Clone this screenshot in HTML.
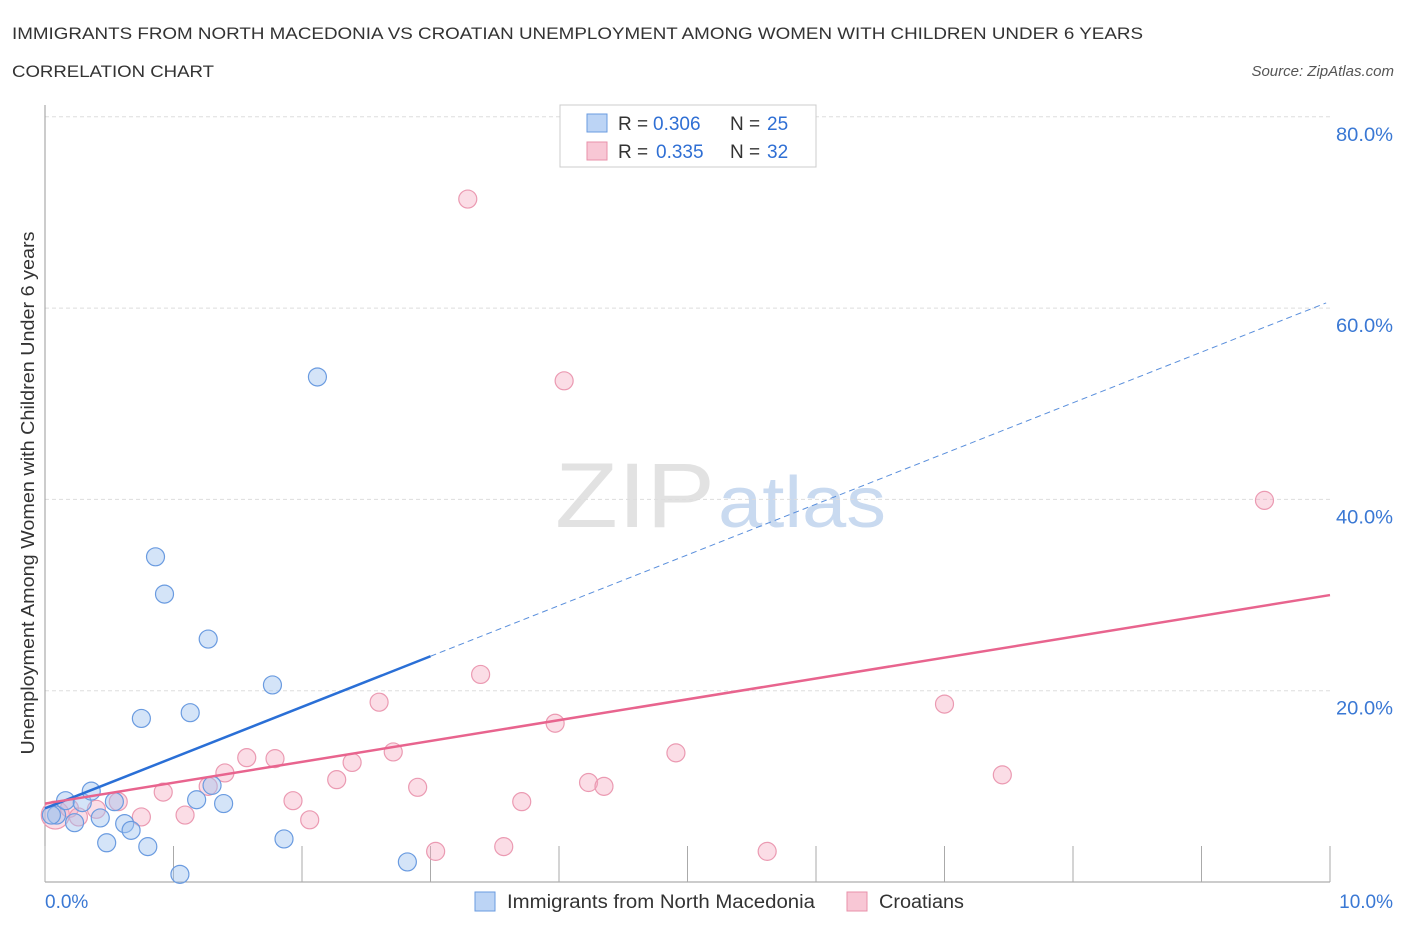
<!DOCTYPE html>
<html><head><meta charset="utf-8"><style>
body{margin:0;background:#fff;font-family:"Liberation Sans",sans-serif;}
svg text{font-family:"Liberation Sans",sans-serif;}
</style></head><body>
<svg id="chart" width="1406" height="930" xmlns="http://www.w3.org/2000/svg">
<text x="12" y="39" font-size="17" fill="#333" textLength="1131" lengthAdjust="spacingAndGlyphs">IMMIGRANTS FROM NORTH MACEDONIA VS CROATIAN UNEMPLOYMENT AMONG WOMEN WITH CHILDREN UNDER 6 YEARS</text>
<text x="12" y="77" font-size="17" fill="#333" textLength="202" lengthAdjust="spacingAndGlyphs">CORRELATION CHART</text>
<text x="1394" y="76" font-size="15" fill="#555" text-anchor="end" font-style="italic">Source: ZipAtlas.com</text>
<text x="555" y="527" font-size="92" fill="#e2e2e2" font-family="Liberation Serif" textLength="160" lengthAdjust="spacingAndGlyphs">ZIP</text>
<text x="718" y="527" font-size="72" fill="#c9daf0" textLength="168" lengthAdjust="spacingAndGlyphs">atlas</text>
<g id="grid"></g>
<text transform="translate(34,493) rotate(-90)" font-size="18" fill="#333" text-anchor="middle" textLength="523" lengthAdjust="spacingAndGlyphs">Unemployment Among Women with Children Under 6 years</text>
<g id="marks"></g>
<g>
<rect x="560" y="105" width="256" height="62" fill="#fff" stroke="#ccc"/>
<rect x="587" y="114" width="20" height="18" fill="#bcd4f5" stroke="#6a9be0"/>
<text x="618" y="130" font-size="19" fill="#333">R =</text>
<text x="653" y="130" font-size="19" fill="#2f6fd4">0.306</text>
<text x="730" y="130" font-size="19" fill="#333">N =</text>
<text x="767" y="130" font-size="19" fill="#2f6fd4">25</text>
<rect x="587" y="142" width="20" height="18" fill="#f8c7d5" stroke="#e890aa"/>
<text x="618" y="158" font-size="19" fill="#333">R =</text>
<text x="656" y="158" font-size="19" fill="#2f6fd4">0.335</text>
<text x="730" y="158" font-size="19" fill="#333">N =</text>
<text x="767" y="158" font-size="19" fill="#2f6fd4">32</text>
</g>
<g>
<rect x="475" y="892" width="20" height="19" fill="#bcd4f5" stroke="#6a9be0"/>
<text x="507" y="908" font-size="19" fill="#333" textLength="308" lengthAdjust="spacingAndGlyphs">Immigrants from North Macedonia</text>
<rect x="847" y="892" width="20" height="19" fill="#f8c7d5" stroke="#e890aa"/>
<text x="879" y="908" font-size="19" fill="#333" textLength="85" lengthAdjust="spacingAndGlyphs">Croatians</text>
</g>
</svg>
<script>
const blueX=[0.09,0.16,0.23,0.29,0.36,0.43,0.48,0.54,0.62,0.67,0.75,0.80,0.86,0.93,1.05,1.13,1.18,1.27,1.30,1.39,1.77,1.86,2.12,2.82,0.05];
const blueY=[7.0,8.5,6.2,8.3,9.5,6.7,4.1,8.4,6.1,5.4,17.1,3.7,34.0,30.1,0.8,17.7,8.6,25.4,10.1,8.2,20.6,4.5,52.8,2.1,7.0];
const pinkX=[0.08,0.19,0.26,0.4,0.57,0.75,0.92,1.09,1.27,1.4,1.57,1.79,1.93,2.06,2.27,2.39,2.6,2.71,2.9,3.04,3.29,3.39,3.57,3.71,3.97,4.04,4.23,4.35,4.91,5.62,7.0,7.45,9.49];
const pinkY=[7.0,7.7,6.8,7.6,8.4,6.8,9.4,7.0,10.0,11.4,13.0,12.9,8.5,6.5,10.7,12.5,18.8,13.6,9.9,3.2,71.4,21.7,3.7,8.4,16.6,52.4,10.4,10.0,13.5,3.2,18.6,11.2,39.9];
const yTicks=[20,40,60,80];
const yTickLabels=["20.0%","40.0%","60.0%","80.0%"];
const xTicks=[0,1,2,3,4,5,6,7,8,9,10];
const blueTrend=[7.7,60.7];
const blueSolidEnd=3.0;
const pinkTrend=[8.2,30.0];
const NS="http://www.w3.org/2000/svg";
const X=v=>45+v*128.5, Y=v=>882-v*9.565;
function mk(tag,attrs,parent){const e=document.createElementNS(NS,tag);for(const k in attrs)e.setAttribute(k,attrs[k]);parent.appendChild(e);return e;}
const grid=document.getElementById('grid'), marks=document.getElementById('marks');
yTicks.forEach((t,i)=>{
 const l=mk('line',{x1:45,x2:1330,y1:Y(t),y2:Y(t),stroke:'#ddd','stroke-dasharray':'4,3'},grid);
 
 
 const tx=mk('text',{x:1393,y:Y(t)+24,'font-size':19,fill:'#3a78d4','text-anchor':'end',textLength:57,lengthAdjust:'spacingAndGlyphs'},grid);
 tx.textContent=yTickLabels[i];
 
 
});
const ya=mk('line',{x1:45,x2:45,y1:105,y2:882,stroke:'#999'},grid);


const xa=mk('line',{x1:45,x2:1330,y1:882,y2:882,stroke:'#999'},grid);


xTicks.forEach(t=>{const l=mk('line',{x1:X(t),x2:X(t),y1:846,y2:882,stroke:'#aaa'},grid);
 
 });
const x0=mk('text',{x:45,y:908,'font-size':19,fill:'#3a78d4'},grid);x0.textContent='0.0%';


const x1=mk('text',{x:1393,y:908,'font-size':19,fill:'#3a78d4','text-anchor':'end'},grid);x1.textContent='10.0%';


pinkX.forEach((x,i)=>{const c=mk('circle',{cx:X(x),cy:Y(pinkY[i]),r:i==0?14:9,fill:'rgba(246,170,192,0.4)',stroke:'#eb9ab2','stroke-width':1.2},marks);
 
 });
blueX.forEach((x,i)=>{const c=mk('circle',{cx:X(x),cy:Y(blueY[i]),r:9,fill:'rgba(160,195,240,0.45)',stroke:'#6a9be0','stroke-width':1.2},marks);
 
 });
const bAt=v=>blueTrend[0]+(blueTrend[1]-blueTrend[0])*v/10;
const bs=mk('line',{x1:X(0),y1:Y(bAt(0)),x2:X(blueSolidEnd),y2:Y(bAt(blueSolidEnd)),stroke:'#2a6fd6','stroke-width':2.5},marks);


const bd=mk('line',{x1:X(blueSolidEnd),y1:Y(bAt(blueSolidEnd)),x2:X(9.97),y2:Y(bAt(9.97)),stroke:'#5a8fdc','stroke-width':1,'stroke-dasharray':'6,4'},marks);


const pl=mk('line',{x1:X(0),y1:Y(pinkTrend[0]),x2:X(10),y2:Y(pinkTrend[1]),stroke:'#e8648e','stroke-width':2.5},marks);


</script>
</body></html>
